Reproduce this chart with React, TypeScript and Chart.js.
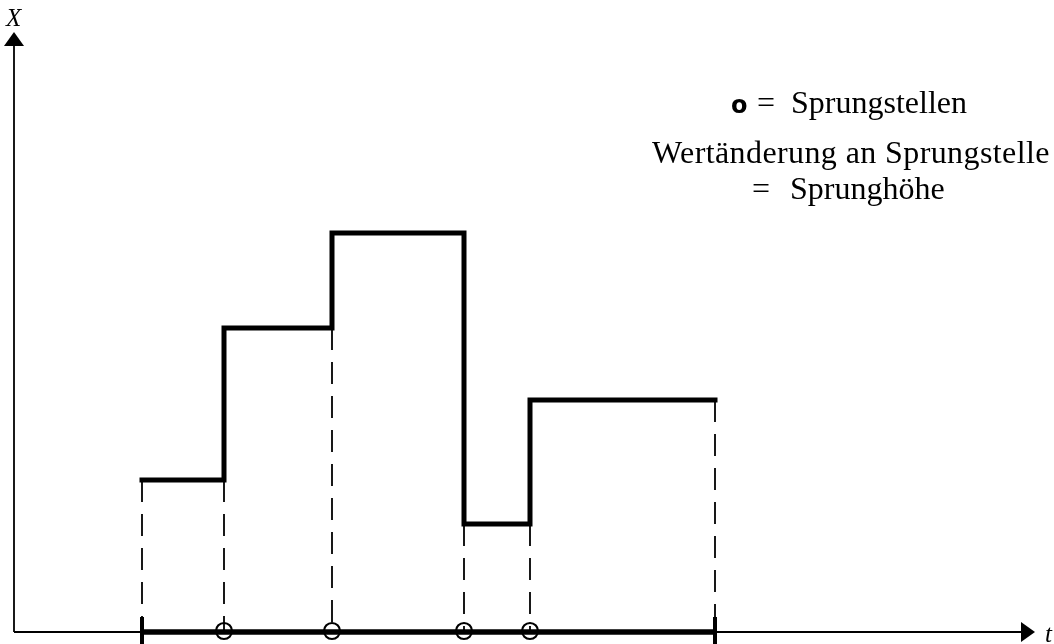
import React, { useEffect, useRef } from "react";
import { Chart, registerables } from "chart.js";

Chart.register(...registerables);

// ---- data ----
const jumpTimes = [1.28, 2.1, 3.18, 4.5, 5.16, 7.01]; // start, jumps..., end
const stepValues = [1.52, 3.04, 3.99, 1.08, 2.32]; // value on each interval
const sprungstellen = [2.1, 3.18, 4.5, 5.16];
const axisXMax = 10.21;
const axisYMax = 6.0;
const xAxisLabel = "t";
const yAxisLabel = "X";
const legendMarker = "o";
const legendLine1 = "= Sprungstellen";
const legendLine2 = "Wertänderung an Sprungstelle";
const legendLine3 = "= Sprunghöhe";

function makeArrow(): HTMLCanvasElement {
  const c = document.createElement("canvas");
  c.width = 20;
  c.height = 14;
  const g = c.getContext("2d")!;
  g.fillStyle = "#000";
  g.beginPath();
  g.moveTo(10, 0);
  g.lineTo(20, 14);
  g.lineTo(0, 14);
  g.closePath();
  g.fill();
  return c;
}

function drawEqLine(ctx: CanvasRenderingContext2D, s: string, eqX: number, wordX: number, y: number) {
  const idx = s.indexOf(" ");
  const eq = s.slice(0, idx);
  const rest = s.slice(idx + 1);
  ctx.fillText(eq, eqX, y);
  ctx.fillText(rest, wordX, y);
}

const textPlugin = {
  id: "annotText",
  afterDraw(chart: any) {
    const ctx = chart.ctx as CanvasRenderingContext2D;
    ctx.save();
    ctx.fillStyle = "#000";
    ctx.textBaseline = "alphabetic";
    ctx.textAlign = "left";
    // axis labels
    ctx.font = 'italic 25px "Liberation Serif"';
    ctx.fillText(yAxisLabel, 6, 26);
    ctx.font = 'italic 25px "Liberation Serif"';
    ctx.fillText(xAxisLabel, 1045, 642);
    // legend text
    ctx.font = 'bold 24px "DejaVu Sans"';
    ctx.fillText(legendMarker, 731, 113);
    ctx.font = '32px "Liberation Serif"';
    drawEqLine(ctx, legendLine1, 757, 791, 113);
    ctx.save();
    (ctx as any).letterSpacing = "0.4px";
    ctx.fillText(legendLine2, 652, 163);
    ctx.restore();
    drawEqLine(ctx, legendLine3, 752, 790, 199);
    ctx.restore();
  },
};

export default function App() {
  const ref = useRef<HTMLCanvasElement | null>(null);

  useEffect(() => {
    if (!ref.current) return;
    const arrow = makeArrow();

    const stepData = stepValues
      .map((v, i) => ({ x: jumpTimes[i], y: v }))
      .concat([{ x: jumpTimes[jumpTimes.length - 1], y: stepValues[stepValues.length - 1] }]);

    const dashTops = jumpTimes.map((t, i) => {
      const left = i > 0 ? stepValues[i - 1] : stepValues[0];
      const right = i < stepValues.length ? stepValues[i] : stepValues[stepValues.length - 1];
      return Math.min(left, right);
    });

    const dashSets = jumpTimes.map((t, i) => ({
      data: [
        { x: t, y: dashTops[i] },
        { x: t, y: 0 },
      ],
      showLine: true,
      borderColor: "#000",
      borderWidth: 1.8,
      borderDash: [22, 12],
      pointRadius: 0,
      clip: false as any,
    }));

    const first = jumpTimes[0];
    const last = jumpTimes[jumpTimes.length - 1];

    const endTicks = [first, last].map((t) => ({
      data: [
        { x: t, y: 0.15 },
        { x: t, y: -0.13 },
      ],
      showLine: true,
      borderColor: "#000",
      borderWidth: 4,
      pointRadius: 0,
      clip: false as any,
    }));

    const chart = new Chart(ref.current, {
      type: "scatter",
      data: {
        datasets: [
          // axes
          {
            data: [
              { x: 0, y: 0 },
              { x: 0, y: 5.88 },
            ],
            showLine: true,
            borderColor: "#000",
            borderWidth: 1.8,
            pointRadius: 0,
            clip: false as any,
          },
          {
            data: [
              { x: 0, y: 0 },
              { x: 10.1, y: 0 },
            ],
            showLine: true,
            borderColor: "#000",
            borderWidth: 1.8,
            pointRadius: 0,
            clip: false as any,
          },
          // arrow heads
          {
            data: [{ x: 0, y: axisYMax - 0.07 }],
            pointStyle: arrow as any,
            pointRadius: 10,
            pointRotation: 0,
            clip: false as any,
          },
          {
            data: [{ x: axisXMax - 0.07, y: 0 }],
            pointStyle: arrow as any,
            pointRadius: 10,
            pointRotation: 90,
            clip: false as any,
          },
          // thick time interval on the axis
          {
            data: [
              { x: first, y: 0 },
              { x: last, y: 0 },
            ],
            showLine: true,
            borderColor: "#000",
            borderWidth: 5.5,
            pointRadius: 0,
            clip: false as any,
          },
          ...endTicks,
          ...dashSets,
          // step function
          {
            data: stepData,
            showLine: true,
            stepped: "before",
            borderColor: "#000",
            borderWidth: 5,
            borderCapStyle: "square",
            borderJoinStyle: "miter",
            pointRadius: 0,
            clip: false as any,
          } as any,
          // Sprungstellen circles
          {
            data: sprungstellen.map((t) => ({ x: t, y: 0.01 })),
            pointStyle: "circle",
            pointRadius: 8,
            pointBorderWidth: 2.2,
            pointBorderColor: "#000",
            pointBackgroundColor: "rgba(0,0,0,0)",
            clip: false as any,
          },
        ] as any,
      },
      options: {
        responsive: false,
        devicePixelRatio: 1,
        animation: false,
        events: [],
        layout: { padding: { left: 14, right: 19, top: 32, bottom: 12 } },
        plugins: {
          legend: { display: false },
          tooltip: { enabled: false },
          title: { display: false },
        },
        scales: {
          x: { type: "linear", min: 0, max: axisXMax, display: false },
          y: { type: "linear", min: 0, max: axisYMax, display: false },
        },
      },
      plugins: [textPlugin],
    });

    return () => chart.destroy();
  }, []);

  return (
    <div style={{ position: "absolute", left: 0, top: 0, width: 1054, height: 644, background: "#fff" }}>
      <canvas ref={ref} width={1054} height={644} style={{ display: "block" }} />
    </div>
  );
}
